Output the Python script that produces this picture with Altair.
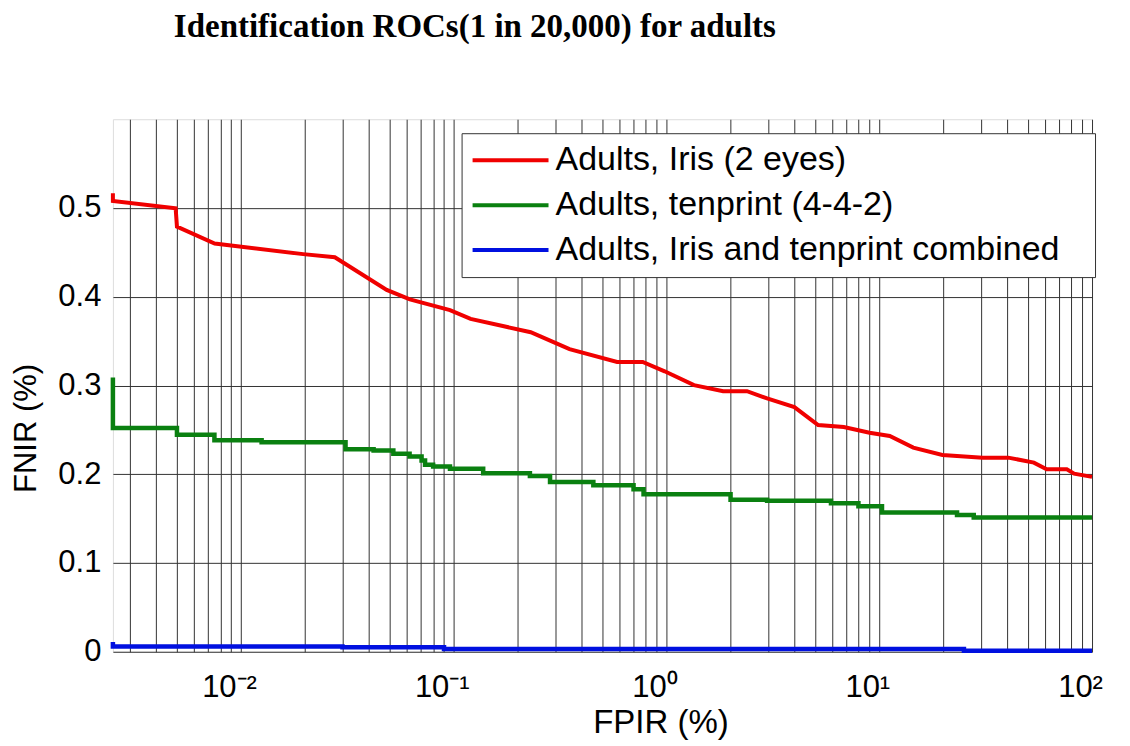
import altair as alt
import pandas as pd

# ---- data ----
series_names = [
    "Adults, Iris (2 eyes)",
    "Adults, tenprint (4-4-2)",
    "Adults, Iris and tenprint combined",
]
series_colors = ["#f00000", "#0a8010", "#0010e0"]

red_x = [0.0025, 0.0025, 0.00493, 0.0050, 0.00752, 0.0196, 0.0276, 0.0484, 0.0622,
         0.096, 0.12, 0.17, 0.23, 0.30, 0.35, 0.586, 0.773, 0.98, 1.346, 1.846,
         2.39, 2.97, 3.99, 5.16, 6.81, 9.0, 11.2, 14.45, 19.8, 30.6, 40.4, 53.3,
         61.2, 76.1, 82.4, 100]
red_y = [0.5166, 0.508, 0.4997, 0.479, 0.460, 0.448, 0.4445, 0.4077, 0.397,
         0.385, 0.375, 0.367, 0.360, 0.348, 0.341, 0.3266, 0.3266, 0.316, 0.3004, 0.2936,
         0.2936, 0.2854, 0.2757, 0.2554, 0.2532, 0.2468, 0.2431, 0.230, 0.2217, 0.2187, 0.2187, 0.2131,
         0.2056, 0.2056, 0.2007, 0.197]

green_x = [0.0025, 0.0025, 0.005, 0.0075, 0.0125, 0.031, 0.042, 0.052, 0.062, 0.0706,
           0.0733, 0.080, 0.096, 0.1375, 0.228, 0.2835, 0.453, 0.70, 0.78, 2.0,
           2.97, 5.93, 7.98, 10.3, 23.2, 27.8, 100]
green_y = [0.309, 0.252, 0.2444, 0.2384, 0.236, 0.2283, 0.2267, 0.223, 0.220, 0.2154,
           0.2106, 0.2087, 0.2061, 0.2012, 0.198, 0.1914, 0.1876, 0.183, 0.1775, 0.1712,
           0.170, 0.1674, 0.164, 0.157, 0.154, 0.1513, 0.1513]

blue_x = [0.0025, 0.0025, 0.030, 0.090, 25.0, 100]
blue_y = [0.011, 0.006, 0.005, 0.003, 0.001, 0.001]

y_ticks = [0, 0.1, 0.2, 0.3, 0.4, 0.5]
x_grid = [k * 10.0 ** e for e in range(-3, 3) for k in range(1, 10)
          if 0.0025 <= k * 10.0 ** e <= 100.0001]


def frame(xs, ys, name):
    return pd.DataFrame({"x": xs, "y": ys, "series": name, "i": list(range(len(xs)))})


red_df = frame(red_x, red_y, series_names[0])
step_df = pd.concat([frame(green_x, green_y, series_names[1]),
                     frame(blue_x, blue_y, series_names[2])], ignore_index=True)

x_label_expr = (
    "abs(log(datum.value)/LN10 - round(log(datum.value)/LN10)) < 0.001 ? "
    "(round(log(datum.value)/LN10) == -2 ? '10\u207b\u00b2' : "
    "round(log(datum.value)/LN10) == -1 ? '10\u207b\u00b9' : "
    "round(log(datum.value)/LN10) == 0 ? '10\u2070' : "
    "round(log(datum.value)/LN10) == 1 ? '10\u00b9' : "
    "round(log(datum.value)/LN10) == 2 ? '10\u00b2' : '') : ''"
)

FONT = "Liberation Sans"
GRID = "#333"

x_enc = alt.X(
    "x:Q",
    scale=alt.Scale(type="log", domain=[0.0025, 100], nice=False),
    axis=alt.Axis(
        values=x_grid, labelExpr=x_label_expr, title="FPIR (%)",
        grid=True, gridColor=GRID, gridWidth=1, gridOpacity=1,
        ticks=False, domain=False, labelFont=FONT, labelFontSize=31,
        labelColor="black", labelPadding=21, labelOffset=-12,
        labelOverlap=False, labelFlush=False,
        titleFont=FONT, titleFontSize=33, titleFontWeight="normal", titleColor="black",
        titleX=548, titleY=71, titleBaseline="middle",
    ),
)
y_enc = alt.Y(
    "y:Q",
    scale=alt.Scale(domain=[0, 0.6], nice=False, zero=True),
    axis=alt.Axis(
        values=y_ticks,
        labelExpr="datum.value == 0 ? '0' : format(datum.value, '.1f')",
        title="FNIR (%)", grid=True, gridColor=GRID, gridWidth=1, gridOpacity=1,
        ticks=False, domain=False, labelFont=FONT, labelFontSize=31,
        labelColor="black", labelPadding=12, labelOverlap=False, labelFlush=False,
        titleFont=FONT, titleFontSize=31, titleFontWeight="normal", titleColor="black",
        titleX=-86, titleY=309, titleBaseline="middle", titleAngle=270,
    ),
)
color_enc = alt.Color(
    "series:N",
    scale=alt.Scale(domain=series_names, range=series_colors),
    legend=alt.Legend(
        title=None, orient="none", legendX=349, legendY=14,
        symbolType="M-4,0H4", symbolSize=361, symbolStrokeWidth=4,
        symbolOffset=22, labelOffset=28,
        labelExpr="datum.label + '\u2800'",
        labelFont=FONT, labelFontSize=34, labelColor="black", labelLimit=900,
        rowPadding=11, padding=10, strokeColor="#333",
        fillColor="white", cornerRadius=0,
    ),
)

red_line = alt.Chart(red_df).mark_line(strokeWidth=4).encode(
    x=x_enc, y=y_enc, color=color_enc, order=alt.Order("i:Q"))
step_lines = alt.Chart(step_df).mark_line(strokeWidth=4.5, interpolate="step-after").encode(
    x=x_enc, y=y_enc, color=color_enc, order=alt.Order("i:Q"))

chart = alt.layer(red_line, step_lines).properties(
    width=980, height=533,
    title=alt.TitleParams(
        "Identification ROCs(1 in 20,000) for adults",
        anchor="start", frame="group", dx=61, offset=75,
        font="Liberation Serif", fontSize=33, fontWeight="bold", color="black",
        limit=900,
    ),
    autosize=alt.AutoSizeParams(type="none"),
    padding={"left": 105, "top": 111, "right": 30, "bottom": 90},
).configure_view(stroke="black", strokeWidth=1).configure(background="white")

chart.save("out.html", embed_options={"renderer": "svg", "actions": False})
